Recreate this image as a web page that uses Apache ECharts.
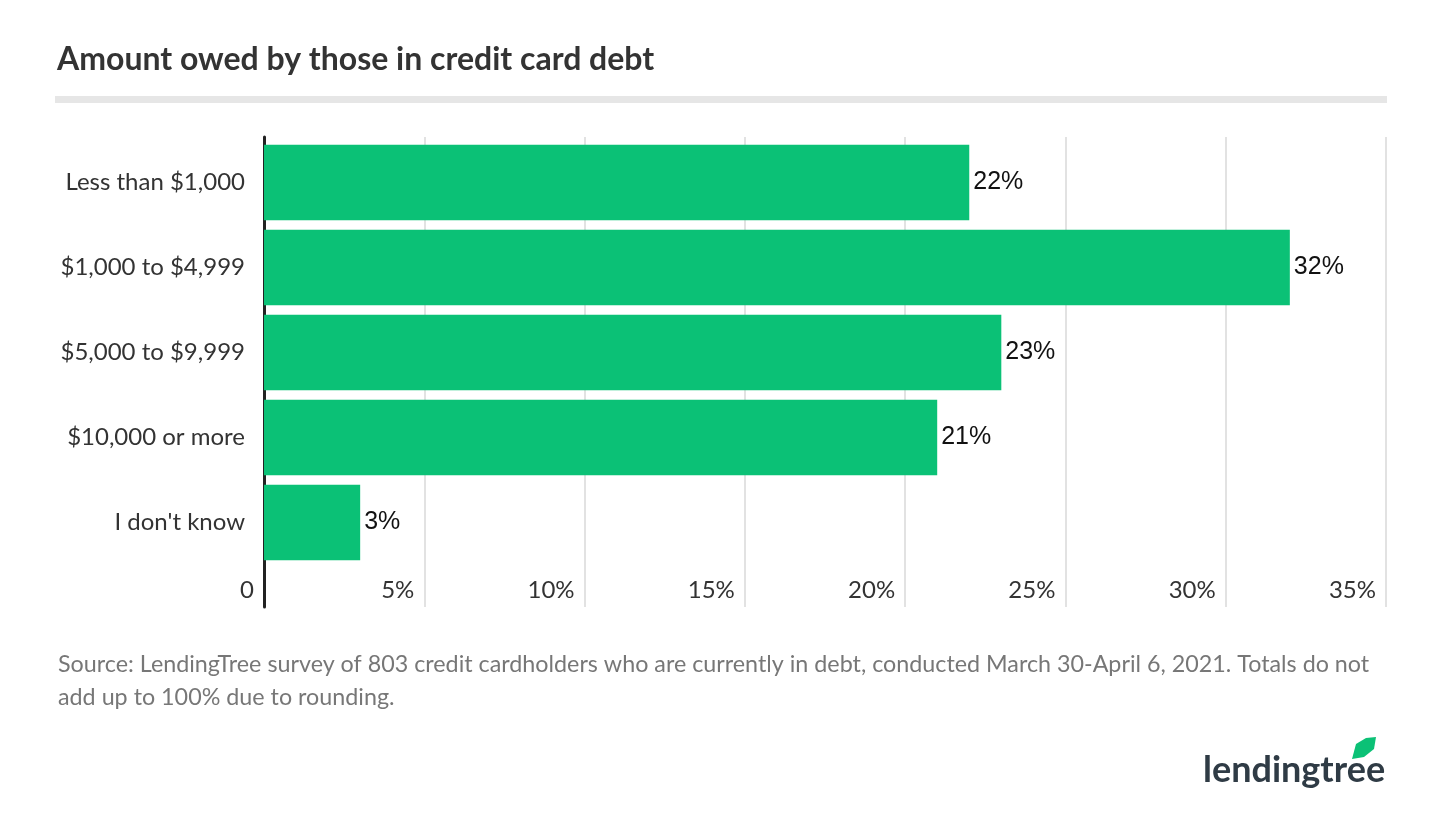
<!DOCTYPE html>
<html>
<head>
<meta charset="utf-8">
<script src="https://cdn.jsdelivr.net/npm/echarts@6/dist/echarts.min.js"></script>
<style>html,body{margin:0;background:#fff}</style>
</head>
<body>
<div id="main" style="width:1454px;height:825px"></div>
<script>
var categories = ['Less than $1,000', '$1,000 to $4,999', '$5,000 to $9,999', '$10,000 or more', "I don't know"];
var shares = [22, 32, 23, 21, 3];
var ticks = [0, 5, 10, 15, 20, 25, 30, 35];

var chart = echarts.init(document.getElementById('main'));
var font = 'Lato, "Noto Sans", sans-serif';
chart.setOption({
  textStyle: {fontFamily: font},
  title: {text: 'Amount owed by those in credit card debt', left: 52, top: 39,
    textStyle: {fontSize: 32, fontWeight: 'bold', color: '#333', fontFamily: font}},
  graphic: [
    {type: 'rect', x: 55, y: 96, shape: {x: 0, y: 0, width: 1332, height: 7}, style: {fill: '#e6e6e6'}},
    {type: 'text', x: 58, y: 648, style: {text: 'Source: LendingTree survey of 803 credit cardholders who are currently in debt, conducted March 30-April 6, 2021. Totals do not\nadd up to 100% due to rounding.', fill: '#777', font: '23.3px ' + font, lineHeight: 33}},
    {type: 'text', x: 1203, y: 752, style: {text: 'lendingtree', fill: '#2f3b45', font: 'bold 36px ' + font}},
    {type: 'polygon', x: 1352, y: 737, shape: {points: [[0, 22], [4, 7], [14, 1], [24, 0], [22, 12], [12, 20]]}, style: {fill: '#0bc176'}}
  ],
  grid: [
    {left: 264, right: 68, top: 140, height: 425},
    {left: 264, right: 68, top: 137, height: 470}
  ],
  xAxis: [
    {gridIndex: 0, type: 'value', min: 0, max: 35, interval: 5, show: false},
    {gridIndex: 1, type: 'value', min: 0, max: 35, interval: 5,
      axisLine: {show: false}, axisTick: {show: false},
      splitLine: {lineStyle: {color: '#d9d9d9', width: 1.5}},
      axisLabel: {inside: true, margin: 5, align: 'right', padding: [0, 10, 0, 0], fontSize: 24, color: '#333',
        formatter: function (v) { return v === 0 ? '0' : v + '%'; }}}
  ],
  yAxis: [
    {gridIndex: 0, type: 'category', inverse: true, data: categories,
      axisLine: {show: false}, axisTick: {show: false},
      axisLabel: {fontSize: 24, color: '#333', margin: 19}},
    {gridIndex: 1, type: 'value', axisLabel: {show: false}, splitLine: {show: false}, axisTick: {show: false},
      axisLine: {show: true, lineStyle: {color: '#222', width: 3}}}
  ],
  series: [{
    type: 'bar', xAxisIndex: 0, yAxisIndex: 0, data: shares, barCategoryGap: '11%',
    itemStyle: {color: '#0bc176'},
    label: {show: true, position: 'right', distance: 4, fontSize: 25, color: '#111',
      fontFamily: '"Liberation Sans", Arial, sans-serif', formatter: '{c}%'}
  }]
});
</script>
</body>
</html>
